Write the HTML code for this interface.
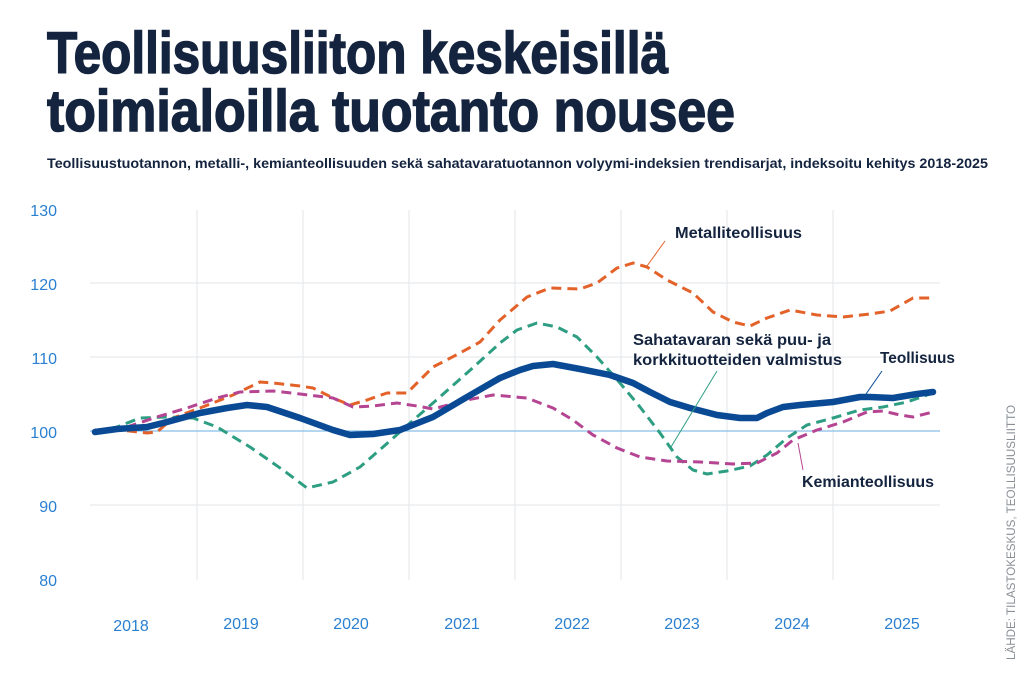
<!DOCTYPE html>
<html><head><meta charset="utf-8"><style>
html,body{margin:0;padding:0;background:#fff;}
svg{display:block;font-family:"Liberation Sans",sans-serif;}
</style></head><body>
<svg width="1024" height="683" viewBox="0 0 1024 683" xmlns="http://www.w3.org/2000/svg">
<text x="47" y="73" font-size="58" font-weight="bold" fill="#14243f" stroke="#14243f" stroke-width="1.5" textLength="621" lengthAdjust="spacingAndGlyphs">Teollisuusliiton keskeisillä</text>
<text x="47" y="131" font-size="58" font-weight="bold" fill="#14243f" stroke="#14243f" stroke-width="1.5" textLength="688" lengthAdjust="spacingAndGlyphs">toimialoilla tuotanto nousee</text>
<text x="47" y="168" font-size="13.5" font-weight="bold" fill="#14243f" textLength="941" lengthAdjust="spacingAndGlyphs">Teollisuustuotannon, metalli-, kemianteollisuuden sekä sahatavaratuotannon volyymi-indeksien trendisarjat, indeksoitu kehitys 2018-2025</text>
<g stroke="#e3e6ea" stroke-width="1">
<line x1="90" y1="283" x2="940" y2="283"/><line x1="90" y1="357" x2="940" y2="357"/><line x1="90" y1="505" x2="940" y2="505"/>
<line x1="197" y1="210" x2="197" y2="580"/><line x1="303" y1="210" x2="303" y2="580"/><line x1="409" y1="210" x2="409" y2="580"/><line x1="515" y1="210" x2="515" y2="580"/><line x1="621" y1="210" x2="621" y2="580"/><line x1="727" y1="210" x2="727" y2="580"/><line x1="833" y1="210" x2="833" y2="580"/>
</g>
<line x1="90" y1="431" x2="940" y2="431" stroke="#6aaee0" stroke-width="1"/>
<g fill="#2a7fd0" font-size="16" text-anchor="end">
<text x="57" y="216">130</text><text x="57" y="290">120</text><text x="57" y="364">110</text><text x="57" y="438">100</text><text x="57" y="512">90</text><text x="57" y="586">80</text>
</g>
<g fill="#2a7fd0" font-size="16" text-anchor="middle">
<text x="131" y="631">2018</text><text x="241" y="629">2019</text><text x="351" y="629">2020</text><text x="462" y="629">2021</text><text x="572" y="629">2022</text><text x="682" y="629">2023</text><text x="792" y="629">2024</text><text x="902" y="629">2025</text>
</g>
<g fill="none" stroke-linejoin="round" stroke-linecap="butt">
<polyline stroke="#e3622a" stroke-width="3" stroke-dasharray="10,6" points="95,430 120,430 147,433 157,432 173,418 200,408 233,395 260,382 273,383 300,386 313,388 333,398 350,405 367,400 387,393 407,393 433,367 460,353 480,342 500,320 527,297 550,288 580,289 597,283 617,268 633,263 647,267 667,280 693,293 713,312 733,322 750,326 767,318 790,310 817,315 843,317 870,314 890,311 913,298 935,298"/>
<polyline stroke="#2e9e83" stroke-width="3" stroke-dasharray="10,6" points="95,432 117,427 140,418 167,417 193,418 217,427 250,447 283,470 307,488 333,482 360,467 383,447 410,423 433,403 467,373 500,343 517,330 537,323 557,327 577,337 597,357 620,383 640,407 660,433 677,457 693,470 707,474 727,471 750,466 767,455 787,438 807,425 833,418 860,410 883,407 907,402 933,393"/>
<polyline stroke="#b54592" stroke-width="3" stroke-dasharray="10,6" points="95,431 127,427 157,417 187,408 217,398 240,392 273,391 300,394 333,398 353,407 373,406 397,403 417,406 433,409 467,400 493,395 527,398 553,408 573,420 593,435 617,448 640,457 667,461 700,462 733,464 757,463 777,453 793,440 817,430 843,422 867,412 883,411 900,415 913,417 933,412"/>
<polyline stroke="#0a4a94" stroke-width="6.5" stroke-linecap="round" points="95,432 117,429 147,427 167,422 200,413 227,408 247,405 267,407 300,418 333,430 350,435 373,434 400,430 433,417 467,397 500,378 520,370 533,366 553,364 580,369 610,375 633,383 650,392 670,402 690,408 717,415 740,418 757,418 767,413 783,407 800,405 833,402 860,397 870,397 893,398 917,394 933,392"/>
</g>
<g stroke-width="1" fill="none">
<line x1="665" y1="241" x2="647" y2="266" stroke="#e3622a"/>
<line x1="717" y1="371" x2="671" y2="447" stroke="#2e9e83"/>
<line x1="882" y1="371" x2="866" y2="394" stroke="#0a4a94"/>
<line x1="803" y1="470" x2="798" y2="443" stroke="#b54592"/>
</g>
<g fill="#14243f" font-size="16" font-weight="bold">
<text x="675" y="238" textLength="127" lengthAdjust="spacingAndGlyphs">Metalliteollisuus</text>
<text x="633" y="345" textLength="198" lengthAdjust="spacingAndGlyphs">Sahatavaran sekä puu- ja</text>
<text x="633" y="365" textLength="209" lengthAdjust="spacingAndGlyphs">korkkituotteiden valmistus</text>
<text x="880" y="363" textLength="75" lengthAdjust="spacingAndGlyphs">Teollisuus</text>
<text x="802" y="487" textLength="132" lengthAdjust="spacingAndGlyphs">Kemianteollisuus</text>
</g>
<text transform="translate(1015,660) rotate(-90)" font-size="12" fill="#8a8f96" textLength="255" lengthAdjust="spacingAndGlyphs">LÄHDE: TILASTOKESKUS, TEOLLISUUSLIITTO</text>
</svg>
</body></html>
